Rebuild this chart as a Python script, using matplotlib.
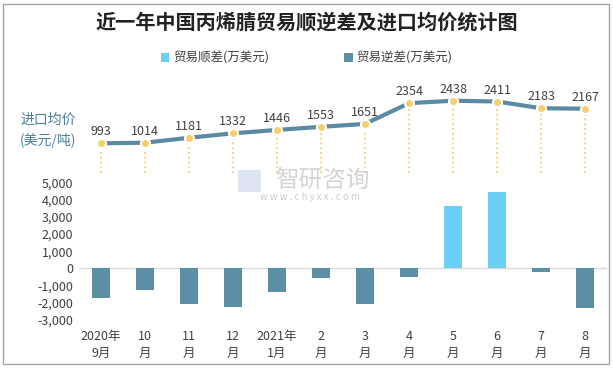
import matplotlib
matplotlib.use('Agg')
import matplotlib.pyplot as plt
from matplotlib.patches import Rectangle
import numpy as np

plt.rcParams['font.family'] = ['Noto Sans CJK SC', 'DejaVu Sans']

months = ['2020年\n9月', '10\n月', '11\n月', '12\n月', '2021年\n1月', '2\n月',
          '3\n月', '4\n月', '5\n月', '6\n月', '7\n月', '8\n月']
price = [993, 1014, 1181, 1332, 1446, 1553, 1651, 2354, 2438, 2411, 2183, 2167]
surplus = [0, 0, 0, 0, 0, 0, 0, 0, 3625, 4440, 0, 0]
deficit = [-1700, -1230, -2050, -2220, -1400, -585, -2050, -490, 0, 0, -234, -2280]
yticks = [5000, 4000, 3000, 2000, 1000, 0, -1000, -2000, -3000]

c_surplus = '#6bcff6'
c_deficit = '#5b8fa6'
c_line = '#5a8ba3'
c_gold = '#f5cf6a'
c_text = '#404040'

fig = plt.figure(figsize=(6.13, 3.68), dpi=100)
x = np.arange(len(months))

# bars
ax = fig.add_axes([0.1289, 0.1304, 0.8613, 0.3742])
ax.bar(x, surplus, width=0.41, color=c_surplus, label='贸易顺差(万美元)')
ax.bar(x, deficit, width=0.41, color=c_deficit, label='贸易逆差(万美元)')
ax.axhline(0, color='#d9d9d9', lw=1, zorder=0)
ax.set_xlim(-0.5, len(months) - 0.5)
ax.set_ylim(-3000, 5000)
ax.set_yticks(yticks)
ax.set_yticklabels([f'{v:,}' for v in yticks], fontsize=9, color=c_text)
ax.set_xticks(x)
ax.set_xticklabels(months, fontsize=9, color=c_text, linespacing=1.45)
ax.tick_params(length=0, pad=4)
ax.tick_params(axis='x', pad=7)
for s in ax.spines.values():
    s.set_visible(False)
ax.patch.set_alpha(0)

# price line
ax2 = fig.add_axes([0.1289, 0.531, 0.8613, 0.238])
ax2.vlines(x, 0, price, colors=c_gold, linestyles=':', lw=1.3)
ax2.plot(x, price, color=c_line, lw=3, marker='o', ms=6.5,
         markerfacecolor=c_gold, markeredgecolor='white', mew=1.5)
for xi, v in zip(x, price):
    ax2.text(xi, v + 170, str(v), ha='center', va='bottom', fontsize=9, color=c_text)
ax2.set_xlim(-0.5, len(months) - 0.5)
ax2.set_ylim(0, 2971)
ax2.axis('off')

fig.text(0.5, 0.94, '近一年中国丙烯腈贸易顺逆差及进口均价统计图', ha='center', va='center',
         fontsize=14.5, fontweight='bold', color='#222222')
fig.legend(loc='center', bbox_to_anchor=(0.5, 0.842), ncol=2, frameon=False,
           fontsize=9, handlelength=0.7, handleheight=0.7, columnspacing=6,
           handletextpad=0.3, labelcolor=c_text)
fig.text(0.033, 0.645, '进口均价\n(美元/吨)', ha='left', va='center', fontsize=10,
         color='#4a7f9a', linespacing=1.5)

# watermark
fig.patches.append(Rectangle((0.388, 0.478), 0.038, 0.06, transform=fig.transFigure,
                             facecolor='#c5d5e8', edgecolor='none', alpha=0.6))
fig.text(0.525, 0.508, '智研咨询', ha='center', va='center', fontsize=17,
         color='#b8b8b8', alpha=0.6)
fig.text(0.505, 0.465, 'w w w . c h y x x . c o m', ha='center', va='center',
         fontsize=7, color='#b8b8b8', alpha=0.7)

fig.patches.append(Rectangle((0.005, 0.012), 0.988, 0.978, transform=fig.transFigure,
                             fill=False, edgecolor='#a6a6a6', lw=1))

fig.savefig('out.png', dpi=100)
